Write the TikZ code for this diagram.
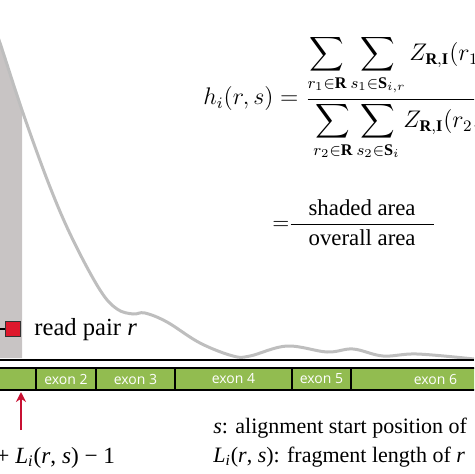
\documentclass[tikz,border=0pt]{standalone}
\usepackage{amsmath}
\usepackage{fontspec}
\setmainfont{Liberation Serif}
\setsansfont{Open Sans}
\usetikzlibrary{arrows.meta, positioning}
\definecolor{cCurve}{RGB}{190,190,190}
\definecolor{cShade}{RGB}{200,196,196}
\definecolor{cExon}{RGB}{146,188,80}
\definecolor{cRead}{RGB}{222,24,44}
\definecolor{cArrow}{RGB}{200,16,50}
\newcommand{\Lir}{\textit{L}\textsubscript{\textit{i}}(\textit{r}, \textit{s})}

\begin{document}
\begin{tikzpicture}[x=0.5pt, y=-0.5pt,
        txt/.style={font=\fontsize{11}{13}\selectfont, inner sep=0pt},
        exon/.style={rectangle, draw=black, line width=0.6pt, fill=cExon, minimum height=11pt,
        inner sep=0pt, font=\sffamily\fontsize{7}{7}\selectfont, text=white},
        readbox/.style={rectangle, draw=black!80, line width=0.5pt, fill=cRead, minimum size=7.5pt, inner sep=0pt},
        curve/.style={cCurve, line width=1.5pt, line cap=round},
        arrow/.style={-{Stealth[length=5pt, width=5pt]}, cArrow, line width=1.2pt}
    ]

        \useasboundingbox (0,0) rectangle (474,474);
        \clip (0,0) rectangle (474,474);

        % --- coverage ---
        \fill[cShade] (0,43) -- (22,110) -- (22,358) -- (0,358) -- cycle;
        \draw[curve] plot[smooth, tension=0.6] coordinates {(-6,28) (0,43) (23,113) (50,187) (73,240)
            (100,290) (117,309) (133,314) (145,313) (167,322) (200,343) (233,356) (250,356)
            (287,346) (327,352) (353,349) (383,356) (417,354) (474,359)};

        \coordinate (axisL) at (0,360);
        \coordinate (axisR) at (474,360);
        \draw[line width=0.8pt] (axisL) -- (axisR);

        % --- exons ---
        \foreach \xa/\xb/\lbl [count=\k] in {-20/36/{}, 36/96/exon 2, 96/175/exon 3,
            175/292/exon 4, 292/351/exon 5, 351/520/exon 6} {
            \pgfmathsetmacro\w{(\xb-\xa)*0.5}
            \node[exon, minimum width=\w pt] (exon\k) at ({(\xa+\xb)/2},379) {\lbl};
        }

        % --- read pair ---
        \node[readbox] (read) at (13,329) {};
        \coordinate (readend) at (0,329);
        \draw[line width=0.6pt] (readend) -- (read);
        \node[txt, font=\fontsize{12.3}{14}\selectfont, anchor=base west] (readlbl) at (34,335) {read pair \textit{r}};

        \coordinate (arrtail) at (21,430);
        \coordinate (arrtip) at (21,392);
        \draw[arrow] (arrtail) -- (arrtip);

        % --- formulas ---
        \node[txt, font=\fontsize{11.6}{14}\selectfont, anchor=base west] (hform) at (203,105)
            {$\displaystyle h_i(r, s) = \frac{\displaystyle\sum_{r_1\in\mathbf{R}}\sum_{s_1\in\mathbf{S}_{i,r}} Z_{\mathbf{R},\mathbf{I}}(r_1, i)\tilde{L}_i(r_1, s_1)}{\displaystyle\sum_{r_2\in\mathbf{R}}\sum_{s_2\in\mathbf{S}_i} Z_{\mathbf{R},\mathbf{I}}(r_2, i)L_i(r_2, s_2)}$};
        \node[txt, font=\fontsize{11.4}{14}\selectfont, anchor=base west] (ratio) at (272,230)
            {$\displaystyle =\!\! \frac{\hspace{9pt}\text{shaded area}\hspace{9pt}}{\text{overall area}}$};

        \node[txt, font=\fontsize{11.6}{14}\selectfont, anchor=base west] (endpos) at (-4,463) {+ \Lir{} − 1};
        \node[txt, anchor=base west] (startdef) at (213,433) {\textit{s}: alignment start position of};
        \node[txt, anchor=base west] (lendef) at (213,462) {\Lir: fragment length of \textit{r}};

    \end{tikzpicture}
\end{document}
